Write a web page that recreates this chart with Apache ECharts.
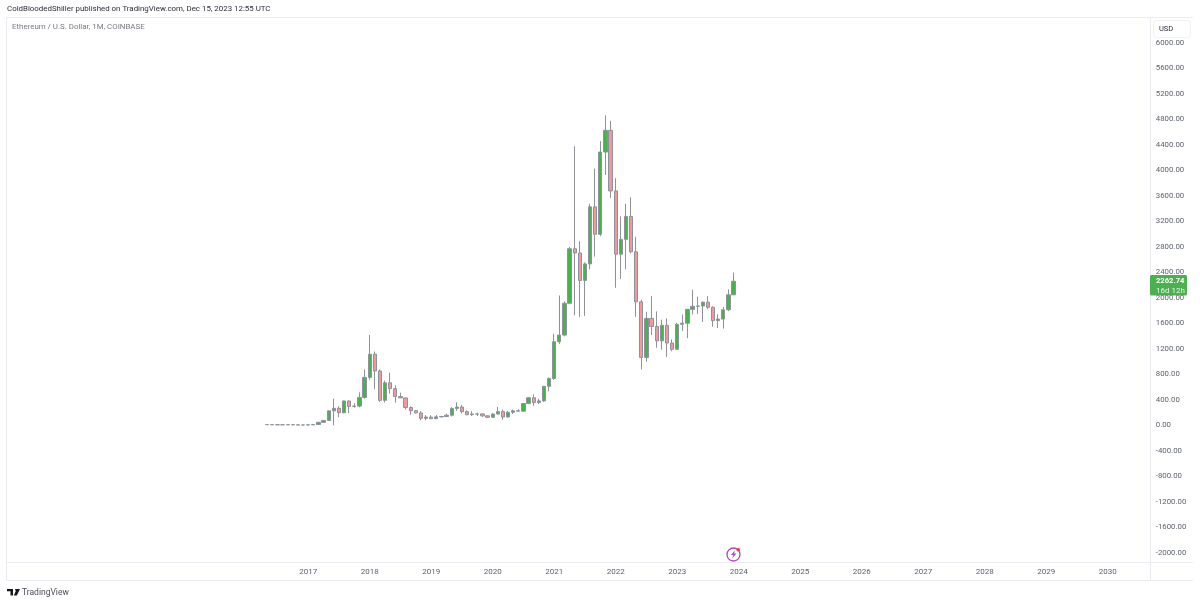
<!DOCTYPE html>
<html><head><meta charset="utf-8">
<style>html,body{margin:0;padding:0;background:#fff}#c{width:1200px;height:604px}</style>
<script src="https://cdn.jsdelivr.net/npm/echarts@6/dist/echarts.min.js"></script>
</head><body><div id="c"></div>
<script>
const firstMonth = [2012, 3];
const monthCount = 223;
const leadingEmptyMonths = 50;
const opens  = [14,14,12,11,11.5,13,11,8, 8,10.7,16,50,80,230,270,200,385,300,305,440, 755,1118,855,395,670,578,455,433,283,233,198,113, 133,107,136,141,162,268,290,217,170,180,182,152, 129,180,218,133,207,231,225,345,435,360,386,615, 737,1314,1419,1918,2773,2706,2275,2535,3430,3000,4290,4630, 3680,2688,2920,3280,2725,1940,1068,1680,1553,1328,1572,1294, 1196,1587,1605,1822,1870,1875,1935,1855,1645,1670,1815,2050];
const closes = [14,12,11,11.5,13,11,8,8, 10.7,16,50,80,230,270,200,385,300,305,440,755, 1118,855,395,670,578,455,433,283,233,198,113,133, 107,136,141,162,268,290,217,170,180,182,152,129, 180,218,133,207,231,225,345,435,360,386,615,737, 1314,1419,1918,2773,2706,2275,2535,3430,3000,4290,4630,3680, 2688,2920,3280,2725,1940,1068,1680,1553,1328,1572,1294,1196, 1587,1605,1822,1870,1875,1935,1855,1645,1670,1815,2050,2262.74];
const lows   = [10,11,10,10.5,11,10.5,7.5,7, 8,10.3,15,43,75,3,130,190,195,280,285,420, 720,570,370,360,500,360,430,250,168,190,82,81, 100,102,125,135,142,230,190,160,150,150,133,118, 125,175,90,128,180,215,220,335,310,335,370,535, 715,1280,1400,1900,1728,1700,1720,2450,2650,2970,3930,3570, 2160,2300,2450,2700,1705,880,1000,1420,1220,1190,1075,1165, 1190,1484,1370,1745,1750,1625,1825,1550,1530,1520,1795,2045];
const highs  = [21,15,14,12,14,14,12,9, 11.5,17,55,82,235,420,300,390,395,350,520,880, 1420,1160,880,705,830,630,515,435,300,240,225,165, 160,165,150,185,288,365,320,240,225,200,192,155, 190,290,250,228,250,255,350,450,490,420,620,755, 1440,2040,1950,2800,4380,2890,2560,3480,4030,4460,4865,4780, 3880,3280,3480,3580,2960,1975,1785,2030,1790,1660,1680,1352, 1610,1740,1830,2130,2020,1945,2030,1870,1745,1860,2135,2400];
const priceTicks = [-2000,-1600,-1200,-800,-400,0,400,800,1200,1600,2000,2400,2800,3200,3600,4000,4400,4800,5200,5600,6000];
const lastPrice = 2262.74;
const countdown = '16d 12h';
const headerText = 'ColdBloodedShiller published on TradingView.com, Dec 15, 2023 12:55 UTC';
const titleText = 'Ethereum / U.S. Dollar, 1M, COINBASE';

const categories = [];
for (let i = 0; i < monthCount; i++) {
  const m = firstMonth[1] - 1 + i;
  const y = firstMonth[0] + Math.floor(m / 12);
  categories.push(y + '-' + String(m % 12 + 1).padStart(2, '0'));
}
const candles = new Array(leadingEmptyMonths).fill('-');
opens.forEach((o, i) => candles.push([o, closes[i], lows[i], highs[i]]));
while (candles.length < monthCount) candles.push('-');

const FONT = 'Roboto';
const LINE = '#eaecf1';
const chart = echarts.init(document.getElementById('c'), null, {renderer: 'canvas'});
const gridLeft = 8.3, gridWidth = 1143, gridTop = 17, gridBottom = 562;

function frameLine(x1, y1, x2, y2) {
  return {type: 'line', silent: true, shape: {x1, y1, x2, y2}, style: {stroke: LINE, lineWidth: 1}, z: 1};
}
function label(text, x, y, size, fill, extra) {
  return {type: 'text', silent: true, x, y, z: 20, style: Object.assign({text, fill, font: size + 'px ' + FONT, textVerticalAlign: 'middle'}, extra || {})};
}

chart.setOption({
  animation: false,
  backgroundColor: '#fff',
  grid: {left: gridLeft, width: gridWidth, top: gridTop, height: gridBottom - gridTop, containLabel: false},
  xAxis: {
    type: 'category', data: categories, boundaryGap: true,
    axisLine: {show: false}, axisTick: {show: false}, splitLine: {show: false},
    axisLabel: {
      show: true, color: '#5d616c', fontFamily: FONT, fontSize: 8, margin: 6, hideOverlap: false,
      interval: (i, v) => v.endsWith('-01') && +v.slice(0, 4) >= 2017,
      formatter: v => v.slice(0, 4)
    }
  },
  yAxis: {
    type: 'value', position: 'right', min: -2141, max: 6408, scale: true,
    axisLine: {show: false}, axisTick: {show: false}, splitLine: {show: false},
    axisLabel: {
      color: '#5d616c', fontFamily: FONT, fontSize: 7.8, margin: 4.5,
      customValues: priceTicks, formatter: v => v.toFixed(2)
    }
  },
  series: [{
    type: 'candlestick', data: candles, barWidth: 3.75, clip: false,
    itemStyle: {color: '#4caf50', color0: '#ef9a9a', borderColor: '#8f929c', borderColor0: '#8f929c', borderWidth: 1}
  }],
  graphic: [
    frameLine(6.5, 17.5, 1193, 17.5),
    frameLine(6.5, 17.5, 6.5, 580.5),
    frameLine(6.5, 580.5, 1193, 580.5),
    frameLine(6.5, 562.5, 1193, 562.5),
    frameLine(1150.5, 17.5, 1150.5, 580.5),
    label(headerText, 7, 9.5, 7.9, '#2a2e39'),
    label(titleText, 12, 27.5, 7.9, '#787b86'),
    {type: 'rect', silent: true, z: 15, shape: {x: 1153.5, y: 20.5, width: 37, height: 17, r: 3}, style: {fill: '#fff', stroke: '#eef0f3', lineWidth: 1}},
    label('USD', 1159, 29, 7.5, '#2a2e39'),
    {type: 'rect', silent: true, z: 15, shape: {x: 1150, y: 275, width: 37, height: 20.5, r: 1.5}, style: {fill: '#4caf50'}},
    label(lastPrice.toFixed(2), 1156, 281, 7.6, '#fff', {font: 'bold 7.6px ' + FONT}),
    label(countdown, 1156, 290.5, 8, '#e9f6ea'),
    {type: 'circle', silent: true, z: 16, shape: {cx: 733.5, cy: 554.5, r: 6.5}, style: {fill: '#fff', stroke: '#ab47bc', lineWidth: 1.3}},
    {type: 'polygon', silent: true, z: 17, shape: {points: [[735,550.3],[731,555],[733.5,555],[732,558.8],[736.4,553.6],[734,553.6]]}, style: {fill: '#ab47bc'}},
    {type: 'circle', silent: true, z: 18, shape: {cx: 738.3, cy: 549.7, r: 1.8}, style: {fill: '#f23645'}},
    {type: 'polygon', silent: true, z: 17, shape: {points: [[7,589],[13,589],[13,595.5],[10.5,595.5],[10.5,591.2],[7,591.2]]}, style: {fill: '#131722'}},
    {type: 'polygon', silent: true, z: 17, shape: {points: [[15,589],[20,589],[16.8,595.5],[13.8,595.5],[15.7,591.2]]}, style: {fill: '#131722'}},
    label('TradingView', 22, 592.5, 8.5, '#4a4e59')
  ]
});
</script></body></html>
